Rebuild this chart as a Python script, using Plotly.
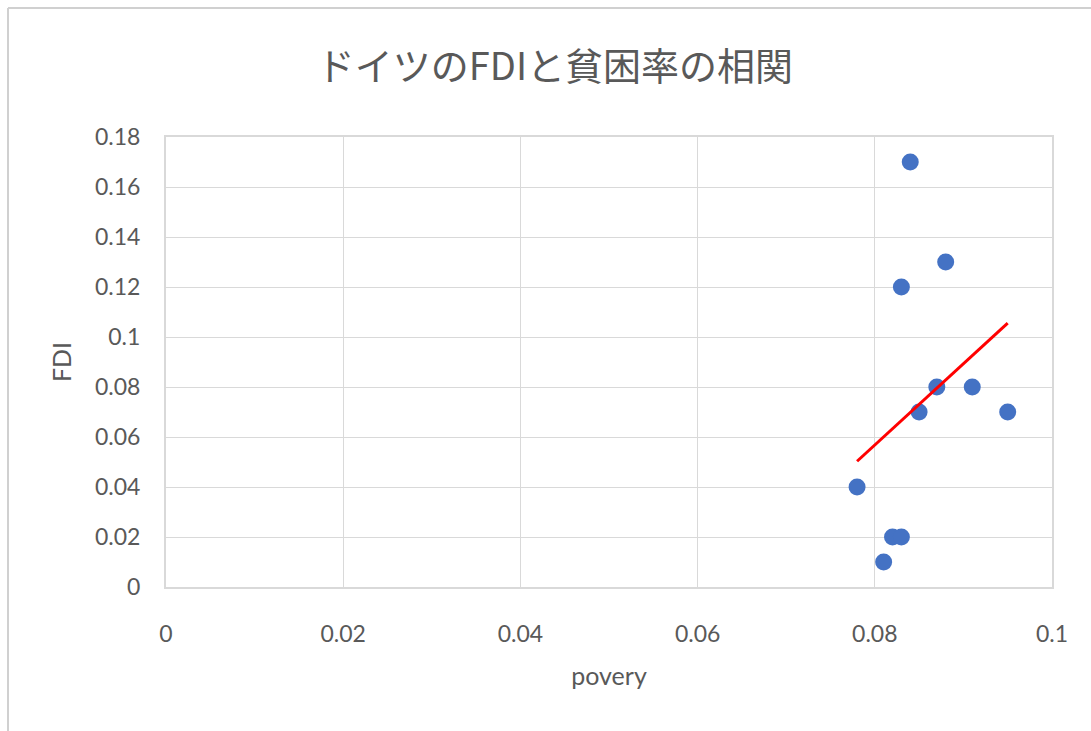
import numpy as np
import plotly.graph_objects as go

# Data
poverty = [0.084, 0.088, 0.083, 0.087, 0.091, 0.085, 0.095, 0.078, 0.082, 0.083, 0.081]
fdi = [0.17, 0.13, 0.12, 0.08, 0.08, 0.07, 0.07, 0.04, 0.02, 0.02, 0.01]
x_ticks = [0, 0.02, 0.04, 0.06, 0.08, 0.1]
x_tick_labels = ["0", "0.02", "0.04", "0.06", "0.08", "0.1"]
y_ticks = [0, 0.02, 0.04, 0.06, 0.08, 0.1, 0.12, 0.14, 0.16, 0.18]
y_tick_labels = ["0", "0.02", "0.04", "0.06", "0.08", "0.1", "0.12", "0.14", "0.16", "0.18"]
title_text = "ドイツのFDIと貧困率の相関"
x_title = "povery"
y_title = "FDI"

# Linear trend line (least squares), drawn over data range
slope, intercept = np.polyfit(poverty, fdi, 1)
trend_x = [min(poverty), max(poverty)]
trend_y = [slope * v + intercept for v in trend_x]

TEXT = "#595959"
GRID = "#D9D9D9"
NUM_FONT = "Lato, 'Noto Sans', sans-serif"
CJK_FONT = "'Noto Sans CJK JP', 'Noto Sans', sans-serif"

fig = go.Figure()
fig.add_trace(go.Scatter(
    x=poverty, y=fdi, mode="markers",
    marker=dict(size=17, color="#4472C4", line=dict(width=0)),
    showlegend=False, hoverinfo="x+y",
))
fig.add_trace(go.Scatter(
    x=trend_x, y=trend_y, mode="lines",
    line=dict(color="#FF0000", width=3),
    showlegend=False, hoverinfo="skip",
))

L, R, T, B = 166, 39, 137, 144
W, H = 1091, 731
pw, ph = W - L - R, H - T - B

def px_x(p):
    return (p - L) / pw

def px_y(p):
    return (H - B - p) / ph

fig.update_layout(
    width=W, height=H,
    margin=dict(l=L, r=R, t=T, b=B),
    paper_bgcolor="white", plot_bgcolor="white",
    title=dict(text=title_text, x=(555) / W, xanchor="center",
               y=1 - 67 / H, yanchor="middle",
               font=dict(family=CJK_FONT, size=38, color=TEXT)),
    xaxis=dict(
        range=[0, 0.1], tickvals=x_ticks, ticktext=x_tick_labels,
        showgrid=True, gridcolor=GRID, gridwidth=1,
        showline=True, linecolor=GRID, linewidth=2, mirror=True,
        zeroline=False, ticks="", ticklabelstandoff=25,
        tickfont=dict(family=NUM_FONT, size=23, color=TEXT),
        title=dict(text=x_title, standoff=22,
                   font=dict(family=NUM_FONT, size=25, color=TEXT)),
    ),
    yaxis=dict(
        range=[0, 0.18], tickvals=y_ticks, ticktext=y_tick_labels,
        showgrid=True, gridcolor=GRID, gridwidth=1,
        showline=True, linecolor=GRID, linewidth=2, mirror=True,
        zeroline=False, ticks="", ticklabelstandoff=19,
        tickfont=dict(family=NUM_FONT, size=23, color=TEXT),
        title=dict(text=y_title, standoff=16,
                   font=dict(family=NUM_FONT, size=25, color=TEXT)),
    ),
    shapes=[
        dict(type="line", xref="paper", yref="paper",
             x0=px_x(8), x1=px_x(8), y0=px_y(8), y1=px_y(731),
             line=dict(color="#D0D0D0", width=2)),
        dict(type="line", xref="paper", yref="paper",
             x0=px_x(8), x1=px_x(1091), y0=px_y(8), y1=px_y(8),
             line=dict(color="#D0D0D0", width=2)),
    ],
)

fig.write_html("out.html")
